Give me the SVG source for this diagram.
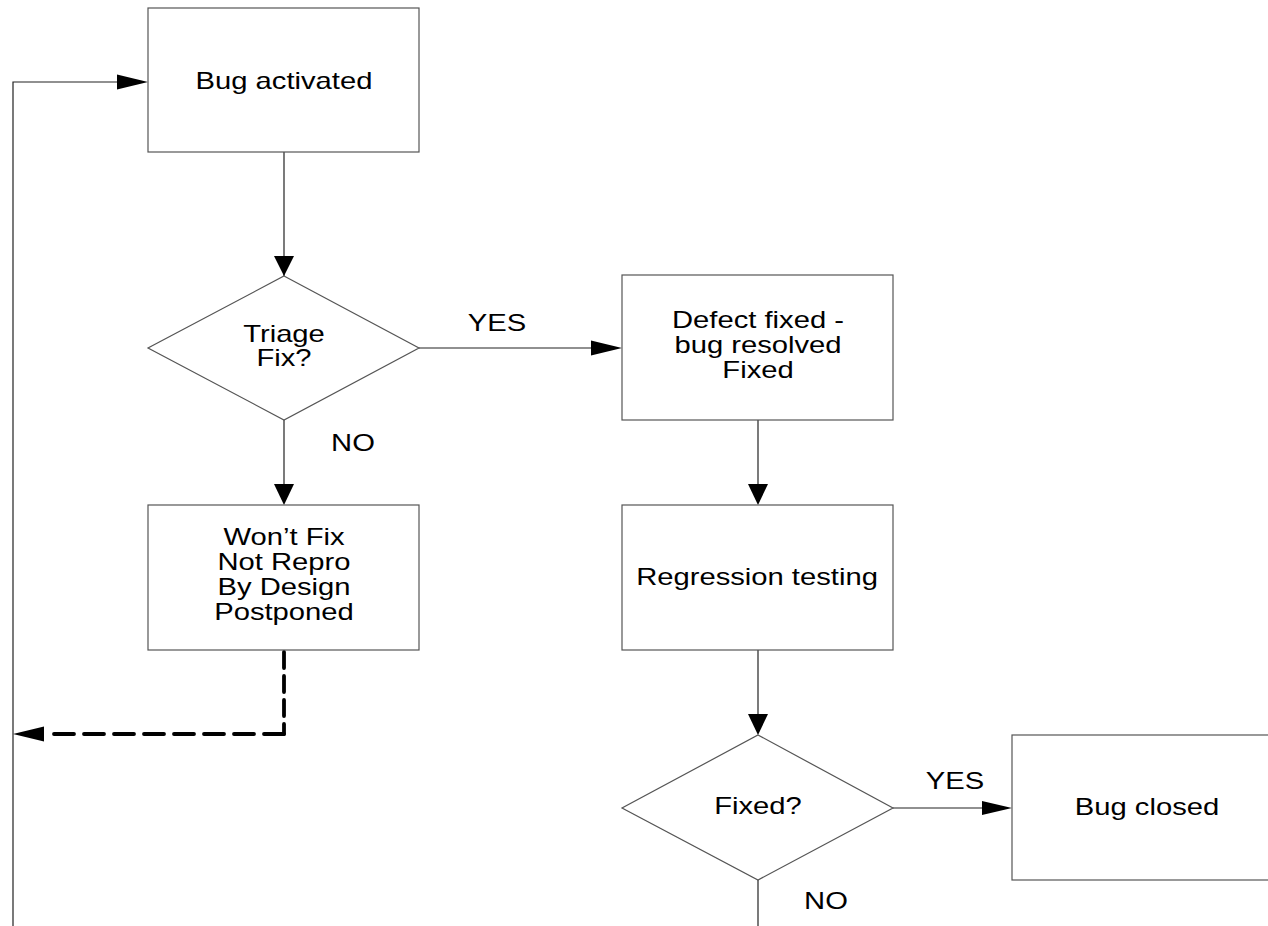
<svg xmlns="http://www.w3.org/2000/svg" width="1268" height="926" viewBox="0 0 1268 926">
<style>
.box{fill:#fff;stroke:#555;stroke-width:1.2}
.ln{fill:none;stroke:#222;stroke-width:1.2}
.ah{fill:#000;stroke:none}
.dash{fill:none;stroke:#000;stroke-width:3.8;stroke-linecap:round}
text{font-family:"Liberation Sans",Arial,sans-serif;font-size:23px;fill:#000;text-anchor:middle}
</style>
<rect width="1268" height="926" fill="#fff"/>
<g id="connectors">
<polyline class="ln" points="13,926 13,82 118,82"/>
<polygon class="ah" points="148,82 117,74.5 117,89.5"/>
<line class="ln" x1="284" y1="152" x2="284" y2="276"/>
<polygon class="ah" points="284,276 274,256 294,256"/>
<line class="ln" x1="419" y1="348" x2="592" y2="348"/>
<polygon class="ah" points="622,348 591,340.5 591,355.5"/>
<line class="ln" x1="284" y1="420" x2="284" y2="484"/>
<polygon class="ah" points="284,505 274,484 294,484"/>
<line class="ln" x1="758" y1="420" x2="758" y2="484"/>
<polygon class="ah" points="758,505 748,484 768,484"/>
<line class="ln" x1="758" y1="650" x2="758" y2="714"/>
<polygon class="ah" points="758,735 748,714 768,714"/>
<line class="ln" x1="893" y1="808" x2="983" y2="808"/>
<polygon class="ah" points="1012,808 982,801 982,815"/>
<line class="ln" x1="758" y1="880" x2="758" y2="926"/>
<line class="dash" x1="284" y1="652" x2="284" y2="734" stroke-dasharray="16 8"/>
<line class="dash" x1="284" y1="734" x2="46" y2="734" stroke-dasharray="20 10"/>
<polygon class="ah" points="13,734 44,726.5 44,741.5"/>
<text x="497" y="331" transform="translate(497 331) scale(1.27 1) translate(-497 -331)">YES</text>
<text x="353" y="451" transform="translate(353 451) scale(1.27 1) translate(-353 -451)">NO</text>
<text x="955" y="789" transform="translate(955 789) scale(1.27 1) translate(-955 -789)">YES</text>
<text x="826" y="909" transform="translate(826 909) scale(1.27 1) translate(-826 -909)">NO</text>
</g>
<g id="bug-activated">
<rect class="box" x="148" y="8" width="271" height="144"/>
<text transform="translate(284 89) scale(1.27 1)">Bug activated</text>
</g>
<g id="triage">
<polygon class="box" points="284,276 419,348 284,420 148,348"/>
<text transform="translate(284 342) scale(1.27 1)">Triage</text>
<text transform="translate(284 366) scale(1.27 1)">Fix?</text>
</g>
<g id="wont-fix">
<rect class="box" x="148" y="505" width="271" height="145"/>
<text transform="translate(284 545) scale(1.27 1)">Won’t Fix</text>
<text transform="translate(284 570) scale(1.27 1)">Not Repro</text>
<text transform="translate(284 595) scale(1.27 1)">By Design</text>
<text transform="translate(284 620) scale(1.27 1)">Postponed</text>
</g>
<g id="defect-fixed">
<rect class="box" x="622" y="275" width="271" height="145"/>
<text transform="translate(758 328) scale(1.27 1)">Defect fixed -</text>
<text transform="translate(758 353) scale(1.27 1)">bug resolved</text>
<text transform="translate(758 378) scale(1.27 1)">Fixed</text>
</g>
<g id="regression">
<rect class="box" x="622" y="505" width="271" height="145"/>
<text transform="translate(757 585) scale(1.27 1)">Regression testing</text>
</g>
<g id="fixed-q">
<polygon class="box" points="758,735 893,808 758,880 622,808"/>
<text transform="translate(758 814) scale(1.27 1)">Fixed?</text>
</g>
<g id="bug-closed">
<rect class="box" x="1012" y="735" width="290" height="145"/>
<text transform="translate(1147 815) scale(1.27 1)">Bug closed</text>
</g>
</svg>
